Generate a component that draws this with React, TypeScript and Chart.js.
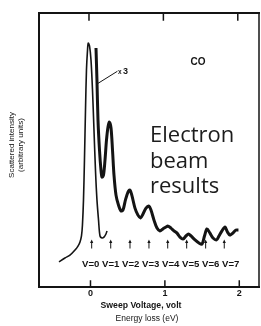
import React, { useEffect, useRef } from "react";
import { Chart, registerables } from "chart.js";

Chart.register(...registerables);

// Energy loss (eV) and scattered intensity (arbitrary units), main trace
const energyLoss = [
  -0.423, -0.343, -0.276, -0.208, -0.168, -0.141, -0.121, -0.108, -0.094, -0.081,
  -0.067, -0.054, -0.04, -0.03, -0.013, 0.007, 0.027, 0.047, 0.067, 0.087,
  0.108, 0.128, 0.155, 0.181, 0.208, 0.222,
];
const intensity = [
  8.9, 10.3, 11.3, 13.1, 14.5, 16.0, 18.1, 22.0, 30.9, 45.0,
  62.8, 77.0, 84.0, 86.5, 85.5, 80.5, 69.9, 55.7, 41.5, 30.9,
  23.8, 18.1, 17.4, 17.7, 18.8, 19.9,
];

// x3 magnified trace
const energyLossX3 = [
  0.074, 0.087, 0.101, 0.121, 0.141, 0.155, 0.175, 0.195, 0.215, 0.235,
  0.255, 0.276, 0.296, 0.316, 0.343, 0.376, 0.41, 0.437, 0.47, 0.504,
  0.531, 0.558, 0.598, 0.638, 0.672, 0.706, 0.746, 0.786, 0.813, 0.853,
  0.894, 0.934, 0.974, 1.015, 1.042, 1.082, 1.122, 1.163, 1.203, 1.243,
  1.284, 1.317, 1.351, 1.405, 1.458, 1.499, 1.532, 1.566, 1.606, 1.647,
  1.694, 1.727, 1.767, 1.808, 1.841, 1.875, 1.913, 1.956, 1.989,
];
const intensityX3 = [
  84.8, 73.4, 59.2, 48.6, 41.5, 39.0, 39.7, 45.0, 52.1, 56.7,
  58.5, 56.4, 48.6, 39.7, 32.6, 29.1, 27.0, 27.3, 30.9, 33.7,
  34.4, 32.3, 28.0, 25.5, 24.5, 25.9, 28.0, 28.7, 27.3, 23.8,
  20.9, 19.9, 20.6, 21.3, 21.6, 20.9, 19.9, 19.1, 17.7, 17.0,
  18.1, 18.8, 18.1, 16.7, 15.6, 15.2, 18.1, 20.6, 19.1, 17.4,
  16.7, 18.1, 19.9, 21.3, 19.5, 18.4, 19.1, 20.2, 20.2,
];

// Vibrational levels marked with arrows
const vibLabels = ["V=0", "V=1", "V=2", "V=3", "V=4", "V=5", "V=6", "V=7"];
const vibEnergies = [0.016, 0.272, 0.531, 0.786, 1.038, 1.293, 1.548, 1.798];

// Axis ticks
const xTickValues = [0, 1, 2];
const xTickLabels = ["0", "1", "2"];

const X_MIN = -0.692;
const X_MAX = 2.265;
const Y_MAX = 97.2;

const INK = "#141414";

const decorations = {
  id: "decorations",
  afterDraw(chart: any) {
    const ctx = chart.ctx as CanvasRenderingContext2D;
    const { left, right, top, bottom } = chart.chartArea;
    const xs = chart.scales.x;
    ctx.save();
    ctx.strokeStyle = INK;
    ctx.fillStyle = INK;
    ctx.lineCap = "square";

    // frame
    ctx.lineWidth = 2;
    ctx.beginPath();
    ctx.moveTo(left, top);
    ctx.lineTo(left, bottom);
    ctx.lineTo(right, bottom);
    ctx.moveTo(left, top);
    ctx.lineTo(right, top);
    ctx.stroke();
    ctx.lineWidth = 1.5;
    ctx.beginPath();
    ctx.moveTo(right, top);
    ctx.lineTo(right, bottom);
    ctx.stroke();

    // ticks
    ctx.lineWidth = 1.5;
    xTickValues.forEach((v) => {
      const px = xs.getPixelForValue(v);
      ctx.beginPath();
      ctx.moveTo(px - 1.5, top);
      ctx.lineTo(px - 1.5, top + 7);
      ctx.moveTo(px, bottom);
      ctx.lineTo(px, bottom - 6);
      ctx.stroke();
    });

    ctx.textAlign = "center";
    ctx.textBaseline = "middle";
    ctx.font = "bold 9px 'Liberation Sans', Arial, sans-serif";
    xTickValues.forEach((v, i) => {
      ctx.fillText(xTickLabels[i], xs.getPixelForValue(v), bottom + 7);
    });

    ctx.font = "bold 8.7px 'Liberation Sans', Arial, sans-serif";
    ctx.fillText("Sweep Voltage, volt", 141, bottom + 19);
    ctx.font = "8.5px 'Liberation Sans', Arial, sans-serif";
    ctx.fillText("Energy loss (eV)", 147, bottom + 32);

    // y title
    ctx.save();
    ctx.translate(16, 145);
    ctx.rotate(-Math.PI / 2);
    ctx.font = "8px 'Liberation Sans', Arial, sans-serif";
    ctx.fillText("Scattered intensity", 0, -4.5);
    ctx.fillText("(arbitrary units)", 0, 4.5);
    ctx.restore();

    // arrows
    ctx.lineWidth = 1;
    vibEnergies.forEach((e) => {
      const px = xs.getPixelForValue(e);
      ctx.beginPath();
      ctx.moveTo(px, 248);
      ctx.lineTo(px, 242);
      ctx.stroke();
      ctx.beginPath();
      ctx.moveTo(px, 239.5);
      ctx.lineTo(px - 1.6, 243);
      ctx.lineTo(px + 1.6, 243);
      ctx.closePath();
      ctx.fill();
    });

    // vib labels
    ctx.font = "bold 9.6px 'Liberation Sans', Arial, sans-serif";
    ctx.textAlign = "left";
    let xCursor = 82;
    vibLabels.forEach((lab) => {
      ctx.fillText(lab, xCursor, 264);
      xCursor += ctx.measureText(lab + " ").width;
    });

    // x3 leader
    ctx.lineWidth = 1;
    ctx.beginPath();
    ctx.moveTo(97, 84);
    ctx.lineTo(117, 71.5);
    ctx.stroke();
    ctx.font = "bold 6.5px 'Liberation Sans', Arial, sans-serif";
    ctx.fillText("x", 118, 72);
    ctx.font = "bold 9px 'Liberation Sans', Arial, sans-serif";
    ctx.fillText("3", 123, 71.5);

    // CO
    ctx.textAlign = "center";
    ctx.font = "bold 10px 'Liberation Sans', Arial, sans-serif";
    ctx.fillText("CO", 198, 62);

    // Electron beam results
    ctx.textAlign = "left";
    ctx.textBaseline = "alphabetic";
    ctx.fillStyle = "#1c1c1c";
    ctx.font = "22px 'Open Sans', sans-serif";
    ctx.fillText("Electron", 150, 142);
    ctx.fillText("beam", 150, 168);
    ctx.fillText("results", 150, 193);

    ctx.restore();
  },
};

export default function App() {
  const ref = useRef<HTMLCanvasElement>(null);
  useEffect(() => {
    if (!ref.current) return;
    const chart = new Chart(ref.current, {
      type: "line",
      data: {
        datasets: [
          {
            label: "Main",
            data: energyLoss.map((x, i) => ({ x, y: intensity[i] })),
            borderColor: INK,
            borderWidth: 1.6,
            pointRadius: 0,
            tension: 0.3,
            fill: false,
          },
          {
            label: "x3",
            data: energyLossX3.map((x, i) => ({ x, y: intensityX3[i] })),
            borderColor: INK,
            borderWidth: 3,
            pointRadius: 0,
            tension: 0.3,
            fill: false,
          },
        ],
      },
      options: {
        responsive: false,
        animation: false,
        layout: { padding: { left: 39, right: 2, top: 13, bottom: 39 } },
        plugins: {
          legend: { display: false },
          tooltip: { enabled: false },
          title: { display: false },
        },
        scales: {
          x: { type: "linear", min: X_MIN, max: X_MAX, display: false },
          y: { type: "linear", min: 0, max: Y_MAX, display: false },
        },
      },
      plugins: [decorations],
    });
    return () => chart.destroy();
  }, []);
  return (
    <div style={{ position: "absolute", left: 0, top: 0, width: 261, height: 326, background: "#fff" }}>
      <canvas ref={ref} width={261} height={326} style={{ display: "block" }} />
    </div>
  );
}
